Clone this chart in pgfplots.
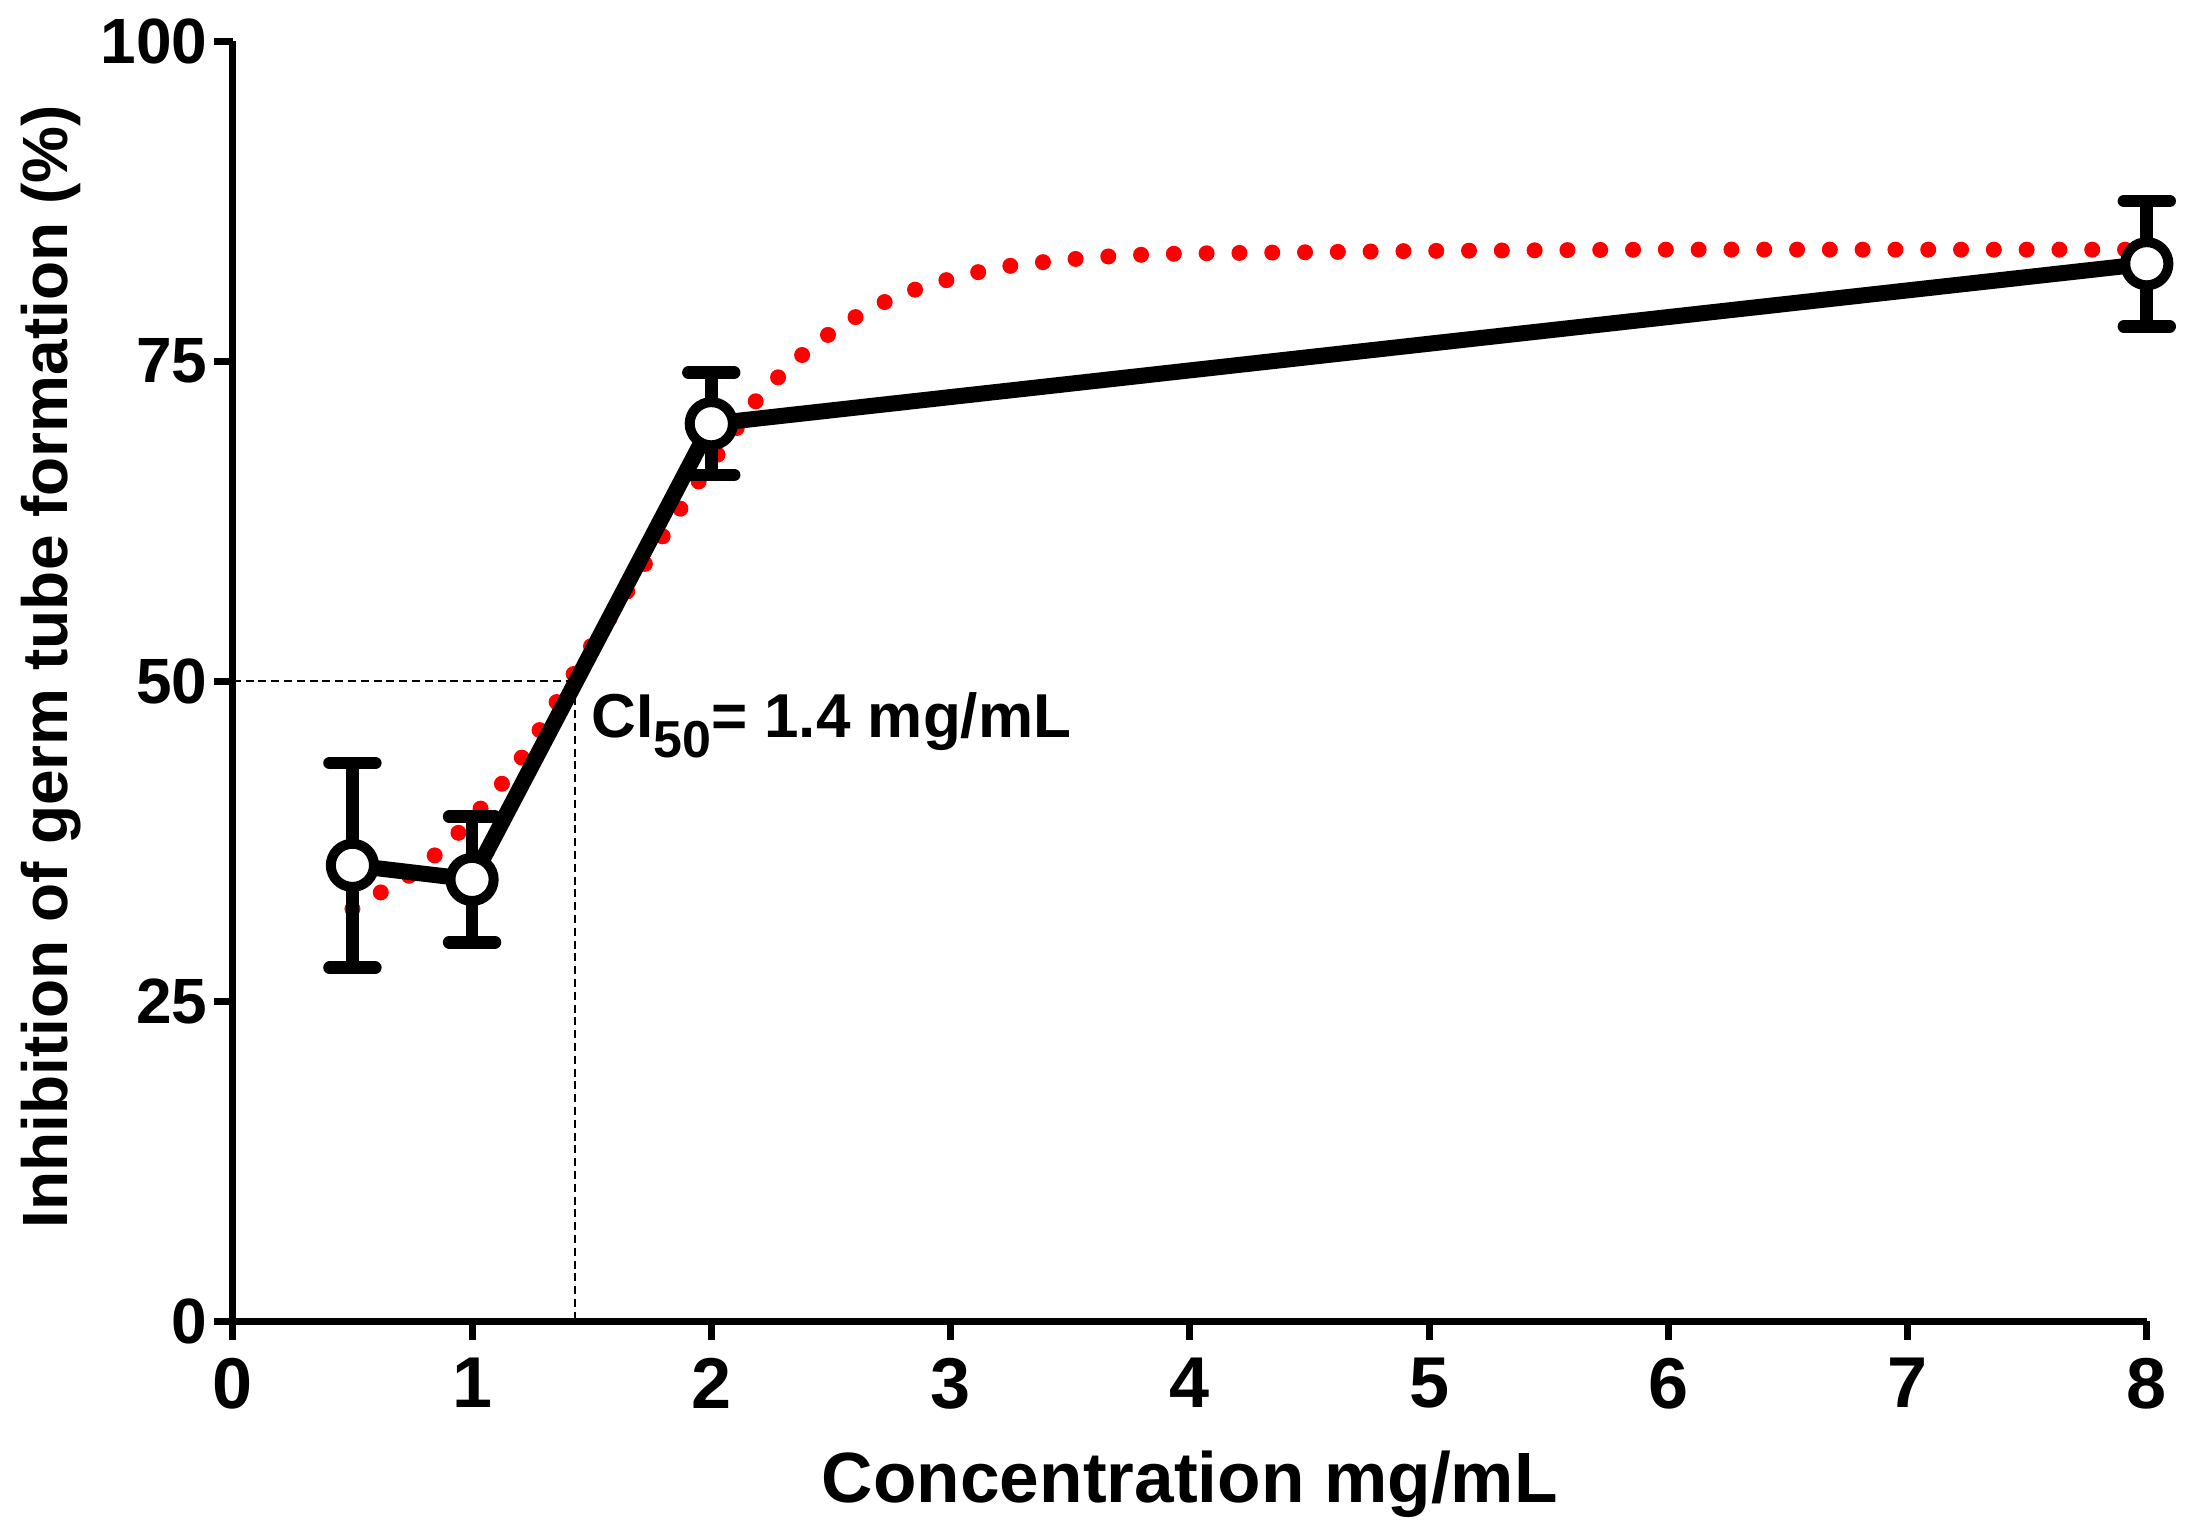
\documentclass[border=0pt]{standalone}
\usepackage{fontspec}
\setmainfont{Liberation Sans}
\usepackage{pgfplots}
\pgfplotsset{compat=1.18}
\begin{document}
\begin{tikzpicture}
\begin{axis}[
  scale only axis,
  width=478.5pt, height=320pt,
  xmin=0, xmax=8, ymin=0, ymax=100,
  axis x line*=bottom, axis y line*=left,
  axis line style={-, line width=1.75pt, black},
  every outer x axis line/.append style={-},
  every outer y axis line/.append style={-},
  tick align=outside,
  major tick length=4.75pt,
  tick style={line width=1.75pt, black},
  xtick={0,1,2,3,4,5,6,7,8}, ytick={0,25,50,75,100},
  /pgf/number format/assume math mode=true,
  xticklabel style={font=\fontsize{18}{18}\selectfont\bfseries, inner sep=0pt, anchor=north, yshift=-4.25pt},
  yticklabel style={font=\fontsize{16}{16}\selectfont\bfseries, inner sep=0pt, anchor=east, xshift=-1.4pt},
  xlabel={Concentration mg/mL},
  xlabel style={font=\fontsize{17.8}{17.8}\selectfont\bfseries, at={(rel axis cs:0.5,-0.1414)}, anchor=base, inner sep=0pt},
  ylabel={Inhibition of germ tube formation (\%)},
  ylabel style={font=\fontsize{16}{16}\selectfont\bfseries, at={(rel axis cs:-0.0865,0.511)}, rotate=0, anchor=base, inner sep=0pt},
  clip=false,
]
\coordinate (ll) at (rel axis cs:0,0);
\coordinate (ur) at (rel axis cs:1,1);

% fitted curve (red dotted)
\addplot[red, line width=4pt, line cap=round, dash pattern=on 0pt off 8.2pt, smooth, tension=0.4] coordinates {
(0.5,32.2)(0.6,33.3)(0.7,34.3)(0.8,35.7)(0.9,37.3)(1.0,39.3)(1.1,41.4)(1.2,43.8)(1.3,46.7)(1.4,49.8)
(1.5,52.8)(1.6,55.6)(1.7,58.5)(1.8,61.4)(1.9,64.3)(2.0,67.0)(2.1,69.6)(2.2,72.2)(2.3,74.1)(2.4,75.8)
(2.5,77.2)(2.6,78.4)(2.7,79.4)(2.8,80.2)(2.9,80.9)(3.0,81.4)(3.2,82.3)(3.4,82.75)(3.6,83.1)(3.8,83.3)
(4.0,83.4)(4.5,83.5)(5,83.6)(6,83.7)(7,83.7)(8,83.7)};

% guide lines
\addplot[black, line width=0.6pt, dash pattern=on 2pt off 1.2pt] coordinates {(0,50) (1.43,50) (1.43,0)};

% data
\addplot[black, line width=4pt, line join=round,
  mark=*, mark size=5.4pt, mark options={fill=white, draw=black, line width=2.5pt, solid},
  error bars/.cd, y dir=both, y explicit,
  error bar style={line width=3.2pt, black},
  error mark=|,
  error mark options={line width=3.2pt, mark size=5.7pt, line cap=round, black}]
 coordinates {(0.5,35.6) +- (0,8.0) (1,34.5) +- (0,4.9) (2,70.1) +- (0,4.0) (8,82.6) +- (0,4.9)};

\node[anchor=base west, inner sep=0pt, font=\fontsize{15.5}{15.5}\selectfont\bfseries] at (axis cs:1.495,45.6)
  {CI\raisebox{-5pt}{\fontsize{13}{13}\selectfont 50}= 1.4 mg/mL};
\end{axis}
\pgfresetboundingbox
\path ([shift={(-58.2pt,-53.75pt)}]ll) rectangle ([shift={(10.8pt,10.25pt)}]ur);
\end{tikzpicture}
\end{document}
